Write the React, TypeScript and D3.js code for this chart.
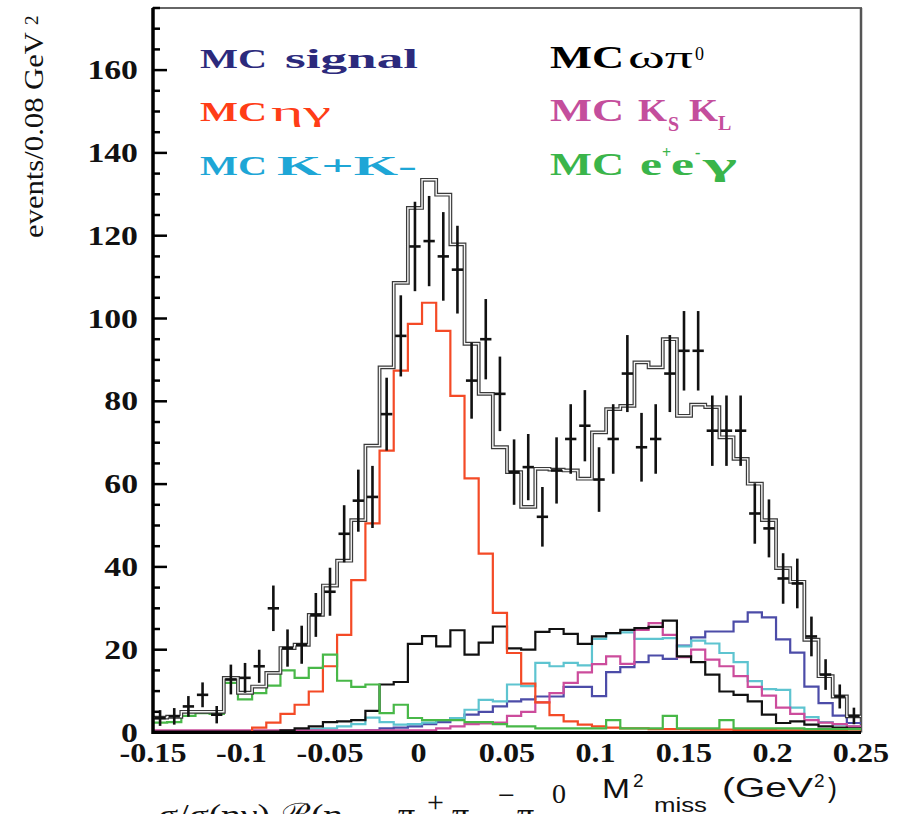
import React from "react";
import * as d3 from "d3";

// binning of the missing-mass histogram
const binLow = -0.15;
const binWidth = 0.008;

// MC components, events per bin (50 bins)
const mcSignal = [0.3, 0.3, 0.3, 0.3, 0.3, 0.3, 0.3, 0.3, 0.3, 0.3, 0.3, 0.3, 0.3, 0.3, 0.4, 0.5, 1, 1.2, 1.5, 2, 2.5, 3.5, 4.3, 5, 6.3, 7.5, 8, 8.7, 8.7, 11, 11, 8.8, 14.6, 15.8, 17, 18.6, 17.8, 21, 23, 24.4, 24.4, 26.8, 29, 27.8, 22.5, 19.3, 11.1, 7.1, 4.1, 2.3];
const mcEtaGamma = [0, 0, 0, 0, 0, 0, 0, 1.2, 2.4, 4.5, 6.7, 9.9, 16, 23.6, 36.8, 50.5, 68.1, 87.4, 98.7, 103.8, 97, 81.3, 61.4, 43.2, 28.9, 19.2, 11.8, 7.3, 4.2, 2.7, 1.9, 1.5, 1.2, 1, 1, 0.8, 0.8, 0.8, 0.7, 0.7, 0.7, 0.6, 0.6, 0.6, 0.5, 0.5, 0.5, 0.4, 0.4, 0.3];
const mcKK = [0.3, 0.3, 0.3, 0.3, 0.3, 0.3, 0.3, 0.3, 0.3, 0.3, 0.5, 0.8, 1, 1.5, 2, 3.6, 2.5, 1.9, 2, 2.4, 3, 3.5, 5.5, 7.9, 7.5, 11.6, 11.2, 16.8, 16, 16.8, 16.2, 22.6, 24, 24.2, 22.6, 22.6, 22.8, 20.8, 22.2, 21.5, 19.2, 17, 12.4, 10.5, 10.3, 6, 3.7, 2.5, 1.9, 1.5];
const mcOmegaPi = [0.2, 0.2, 0.2, 0.2, 0.2, 0.2, 0.2, 0.2, 0.2, 0.5, 1, 1.5, 2.5, 2.7, 3, 5.2, 11.6, 12.2, 21.4, 23.3, 20.8, 24.7, 18.8, 21.7, 25.6, 20.3, 20, 24.3, 25, 23.8, 21.4, 23.2, 24, 24.8, 25.2, 25.5, 27, 18.4, 17, 14, 9.9, 9.1, 7.5, 4.3, 2.3, 2.7, 1.9, 1.5, 1.2, 1];
const mcKsKl = [0.5, 0.5, 0.5, 0.5, 0.5, 0.5, 0.5, 0.5, 0.5, 0.5, 0.5, 0.5, 0.5, 0.5, 0.5, 0.5, 0.5, 0.5, 0.5, 0.5, 1, 1.5, 2, 2.2, 2.4, 4, 5, 7.3, 9.5, 12, 14.5, 16.5, 18.4, 16.6, 24.8, 26.4, 23.6, 18.2, 20, 17.6, 16, 13.6, 11, 8.9, 6, 4.5, 3, 2.4, 2, 1.5];
const mcEEGamma = [2.4, 2.5, 4, 4.7, 4.5, 12, 8, 9.5, 11.3, 15, 13.2, 15.6, 18.8, 12.5, 11, 11.6, 4.7, 6.7, 3.5, 3, 3, 3, 2.5, 2.5, 2, 1.5, 1.5, 1, 1, 1, 1, 1, 3, 1, 1, 1, 4, 1, 1, 1, 3, 1, 1, 1, 1, 1, 0.8, 0.8, 0.8, 0.8];
const mcTotal = [3.6, 3.8, 5, 5, 5, 13.2, 9.6, 11.1, 14.4, 20.4, 21.2, 28.4, 35.5, 41.5, 51.3, 69.3, 88.2, 108.6, 126.7, 133.5, 129.9, 117.9, 93.9, 81.8, 68.9, 62.9, 54.5, 63.7, 63.5, 63.3, 61.3, 72.5, 78.1, 78.9, 89.4, 88.2, 95, 76.5, 79.2, 78.6, 71.3, 66.1, 60.1, 51.3, 39.7, 36.4, 22.4, 13.6, 8.7, 3.9];

// data points and their errors
const dataVal = [3.5, 3.9, 6.3, 9.1, 4.3, 12.8, 13.2, 16, 30, 20.4, 21.2, 28.4, 34, 48, 56, 56.9, 76.9, 95.8, 117.4, 118.7, 115, 111.8, 85, 95, 81.8, 62.9, 64.1, 52.1, 63.3, 70.9, 74.1, 61.1, 70.9, 86.7, 68.9, 70.9, 86.7, 92.2, 92.2, 72.9, 72.9, 72.9, 52.9, 49.3, 37.2, 36, 23.2, 14, 8.7, 4];
const dataErr = [1.9, 2, 2.5, 3, 2.1, 3.6, 3.6, 4, 5.5, 4.5, 4.6, 5.3, 5.8, 6.9, 7.5, 7.5, 8.8, 9.8, 10.8, 10.9, 10.7, 10.6, 9.2, 9.7, 9, 7.9, 8, 7.2, 8, 8.4, 8.6, 7.8, 8.4, 9.3, 8.3, 8.4, 9.3, 9.6, 9.6, 8.5, 8.5, 8.5, 7.3, 7, 6.1, 6, 4.8, 3.7, 2.9, 2];

const xTickValues = [-0.15, -0.1, -0.05, 0, 0.05, 0.1, 0.15, 0.2, 0.25];
const xTickLabels = ["-0.15", "-0.1", "-0.05", "0", "0.05", "0.1", "0.15", "0.2", "0.25"];
const yTickValues = [0, 20, 40, 60, 80, 100, 120, 140, 160];

const serif = "'Times New Roman', 'Liberation Serif', Times, serif";
const sans = "'Liberation Sans', Arial, sans-serif";

export default function App() {
  const width = 901,
    height = 814;
  const left = 153,
    right = 861,
    top = 8,
    bottom = 732.5;

  const x = d3.scaleLinear().domain([-0.15, 0.25]).range([left, right]);
  const y = d3.scaleLinear().domain([0, 175]).range([bottom, top]);

  const edges = d3.range(mcTotal.length + 1).map((i) => binLow + i * binWidth);

  const step = (vals: number[]) =>
    d3
      .line<number>()
      .x((d, i) => x(edges[i]))
      .y((d) => y(d))
      .curve(d3.curveStepAfter)([...vals, vals[vals.length - 1]]) || "";

  const components = [
    { vals: mcSignal, color: "#4c4ca8" },
    { vals: mcKK, color: "#5ec4d0" },
    { vals: mcKsKl, color: "#cc4c9c" },
    { vals: mcOmegaPi, color: "#111111" },
    { vals: mcEtaGamma, color: "#f44a26" },
    { vals: mcEEGamma, color: "#48b848" },
  ];

  const minorTicks = d3.range(0, 176, 5);

  return (
    <svg
      width={width}
      height={height}
      style={{ position: "absolute", left: 0, top: 0, background: "white" }}
    >
      {/* frame */}
      <line x1={left - 1} x2={right + 1} y1={top} y2={top} stroke="#666" strokeWidth={2} />
      <line x1={right} x2={right} y1={top} y2={bottom} stroke="#555" strokeWidth={2.5} />

      {/* MC components */}
      <g fill="none" strokeWidth={2.2}>
        {components.map((c, i) => (
          <path key={i} d={step(c.vals)} stroke={c.color} />
        ))}
      </g>

      {/* MC total, double line */}
      <path d={step(mcTotal)} fill="none" stroke="#3a3a3a" strokeWidth={3.8} />
      <path d={step(mcTotal)} fill="none" stroke="#f4f4f4" strokeWidth={1.4} />

      {/* data */}
      <g stroke="#111" strokeWidth={2.6}>
        {dataVal.map((v, i) => {
          const cx = x(edges[i] + binWidth / 2);
          return (
            <g key={i}>
              <line x1={x(edges[i] + binWidth * 0.1)} x2={x(edges[i] + binWidth * 0.9)} y1={y(v)} y2={y(v)} />
              <line x1={cx} x2={cx} y1={y(Math.max(0, v - dataErr[i]))} y2={y(v + dataErr[i])} />
            </g>
          );
        })}
      </g>

      {/* axes */}
      <line x1={left} x2={left} y1={top} y2={bottom + 1.5} stroke="black" strokeWidth={3.5} />
      <line x1={left} x2={right} y1={bottom} y2={bottom} stroke="black" strokeWidth={3} />
      <g stroke="black" strokeWidth={2.5}>
        {minorTicks.map((t) => (
          <line key={t} x1={left} x2={left + (t % 20 === 0 ? 14 : 7)} y1={y(t)} y2={y(t)} />
        ))}
      </g>

      {/* y tick labels */}
      <g fontFamily={serif} fontWeight="bold" fontSize={27} fill="#111" textAnchor="end">
        {yTickValues.map((t) => (
          <text key={t} transform={`translate(138,${y(t) + 9}) scale(1.25,1)`}>
            {t}
          </text>
        ))}
      </g>

      {/* x tick labels */}
      <g fontFamily={serif} fontWeight="bold" fontSize={28} fill="#111" textAnchor="middle">
        {xTickValues.map((t, i) => (
          <text key={t} transform={`translate(${x(t)},762) scale(1.15,1)`}>
            {xTickLabels[i]}
          </text>
        ))}
      </g>

      {/* y axis title */}
      <text
        transform="translate(43,238) rotate(-90)"
        fontFamily={serif}
        fontSize={27}
        fill="#111"
        textLength={206}
        lengthAdjust="spacingAndGlyphs"
      >
        events/0.08 GeV
      </text>
      <text transform="translate(38,25) rotate(-90)" fontFamily={serif} fontSize={19} fill="#111">
        2
      </text>

      {/* x axis title */}
      <g fontFamily={sans} fill="#111">
        <text x={602} y={798} fontSize={27} textLength={28} lengthAdjust="spacingAndGlyphs">M</text>
        <text x={633} y={787} fontSize={19}>2</text>
        <text x={654} y={812} fontSize={20} textLength={53} lengthAdjust="spacingAndGlyphs">miss</text>
        <text x={722} y={797} fontSize={27} textLength={91} lengthAdjust="spacingAndGlyphs">(GeV</text>
        <text x={814} y={787} fontSize={19}>2</text>
        <text x={828} y={797} fontSize={27}>)</text>
      </g>

      {/* caption, cut at the bottom edge */}
      <g fontFamily={serif} fill="#111">
        <text x={158} y={826} fontSize={32} textLength={232} lengthAdjust="spacingAndGlyphs">σ/σ(ηγ) ℬ(η →</text>
        <text x={398} y={826} fontSize={34}>π</text>
        <text x={427} y={812} fontSize={30}>+</text>
        <text x={452} y={826} fontSize={34}>π</text>
        <text x={498} y={805} fontSize={30}>−</text>
        <text x={517} y={826} fontSize={34}>π</text>
        <text x={552} y={803} fontSize={28}>0</text>
      </g>

      {/* legend, left column */}
      <g fontFamily={serif} fontWeight="bold" fontSize={28}>
        <g fill="#2c2a7c">
          <text x={200} y={68} textLength={67} lengthAdjust="spacingAndGlyphs">MC</text>
          <text x={285} y={68} textLength={133} lengthAdjust="spacingAndGlyphs">signal</text>
        </g>
        <g fill="#ff3d17">
          <text x={200} y={121} textLength={67} lengthAdjust="spacingAndGlyphs">MC</text>
          <text x={271} y={121} fontWeight="normal" textLength={60} lengthAdjust="spacingAndGlyphs">ηγ</text>
        </g>
        <g fill="#1ea6d6">
          <text x={200} y={175} textLength={67} lengthAdjust="spacingAndGlyphs">MC</text>
          <text x={277} y={175} textLength={140} lengthAdjust="spacingAndGlyphs">K+K-</text>
        </g>
      </g>

      {/* legend, right column */}
      <g fontFamily={serif} fontWeight="bold" fontSize={31}>
        <g fill="#000">
          <text x={550} y={68} textLength={74} lengthAdjust="spacingAndGlyphs">MC</text>
          <text x={628} y={68} fontWeight="normal" textLength={65} lengthAdjust="spacingAndGlyphs">ωπ</text>
          <text x={695} y={60} fontWeight="normal" fontSize={18}>0</text>
        </g>
        <g fill="#c44e9c">
          <text x={550} y={121} textLength={74} lengthAdjust="spacingAndGlyphs">MC</text>
          <text x={638} y={121} textLength={29} lengthAdjust="spacingAndGlyphs">K</text>
          <text x={668} y={131} fontSize={20}>S</text>
          <text x={689} y={121} textLength={29} lengthAdjust="spacingAndGlyphs">K</text>
          <text x={718} y={130} fontSize={20}>L</text>
        </g>
        <g fill="#3ab54a">
          <text x={550} y={175} textLength={74} lengthAdjust="spacingAndGlyphs">MC</text>
          <text x={640} y={175} textLength={22} lengthAdjust="spacingAndGlyphs">e</text>
          <text x={662} y={158} fontSize={16}>+</text>
          <text x={671} y={175} textLength={23} lengthAdjust="spacingAndGlyphs">e</text>
          <text x={695} y={158} fontSize={16}>-</text>
          <text x={703} y={175} textLength={34} lengthAdjust="spacingAndGlyphs">γ</text>
        </g>
      </g>
    </svg>
  );
}
